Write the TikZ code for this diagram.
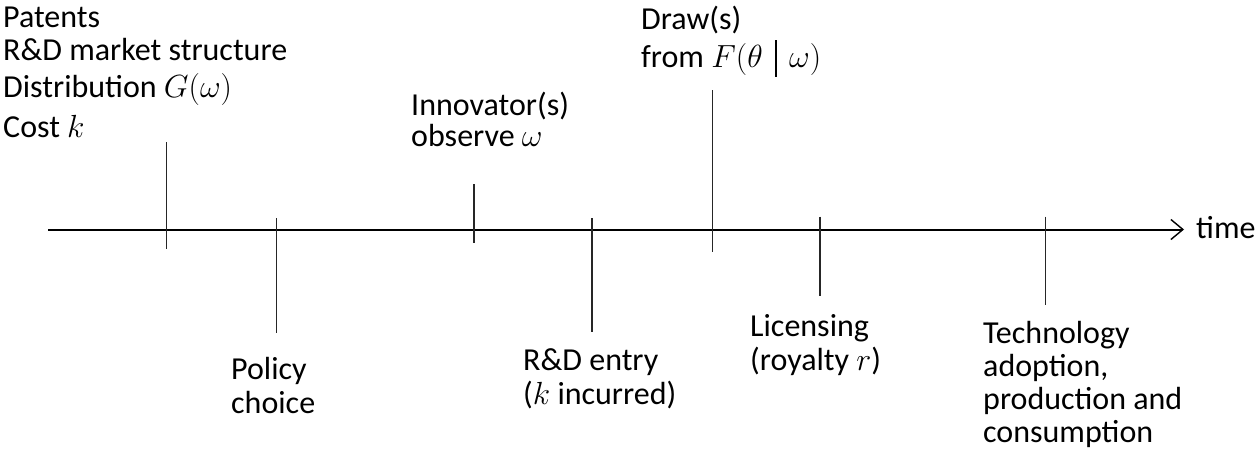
\documentclass[tikz,border=0pt]{standalone}
\usepackage{fix-cm}
\usepackage{fontspec}
\setmainfont{Carlito}
\usetikzlibrary{arrows.meta}
\begin{document}
\begin{tikzpicture}[x=1pt,y=-1pt,
  lbl/.style={anchor=base west,inner sep=0pt,font=\fontsize{32}{34}\selectfont},
  tickline/.style={draw=black!85,line width=1.4pt},
  axisline/.style={draw=black,line width=2pt,-{Straight Barb[length=12pt,width=20pt,line width=1.4pt]}}]
\useasboundingbox (0,0) rectangle (1258,467);
% axis
\coordinate (ax0) at (48,229.5);
\coordinate (ax1) at (1184,229.5);
\draw[axisline] (ax0) -- (ax1);
\node[lbl] (time) at (1196,238) {time};
% ticks
\coordinate (t1a) at (166.5,142);  \coordinate (t1b) at (166.5,248.5);
\coordinate (t2a) at (276.5,218);  \coordinate (t2b) at (276.5,333);
\coordinate (t3a) at (474,184);    \coordinate (t3b) at (474,243);
\coordinate (t4a) at (592,218);    \coordinate (t4b) at (592,332);
\coordinate (t5a) at (712.5,90);   \coordinate (t5b) at (712.5,252);
\coordinate (t6a) at (820,216.5);  \coordinate (t6b) at (820,296);
\coordinate (t7a) at (1045.5,216.5); \coordinate (t7b) at (1045.5,305);
\foreach \i in {1,...,7} {\draw[tickline] (t\i a) -- (t\i b);}
% labels
\node[lbl] (a1) at (3,27) {Patents};
\node[lbl] (a2) at (3,60) {R\&D market structure};
\node[lbl] (a3) at (3,97) {Distribution $G(\omega)$};
\node[lbl] (a4) at (3,137.5) {Cost $k$};
\node[lbl] (b1) at (231,379) {Policy};
\node[lbl] (b2) at (231,413) {choice};
\node[lbl] (c1) at (411,115.5) {Innovator(s)};
\node[lbl] (c2) at (411,146) {observe $\omega$};
\node[lbl] (d1) at (523,370) {R\&D entry};
\node[lbl] (d2) at (523,404) {($k$ incurred)};
\node[lbl] (e1) at (641,29) {Draw(s)};
\node[lbl] (e2) at (641,67) {from $F(\theta\mkern7mu\rule[-0.3em]{1.6pt}{1.15em}\mkern7mu\omega)$};
\node[lbl] (f1) at (750,336) {Licensing};
\node[lbl] (f2) at (750,370) {(royalty $r$)};
\node[lbl] (g1) at (983,343) {Technology};
\node[lbl] (g2) at (983,376) {adoption,};
\node[lbl] (g3) at (983,409) {production and};
\node[lbl] (g4) at (983,442) {consumption};
\end{tikzpicture}
\end{document}
